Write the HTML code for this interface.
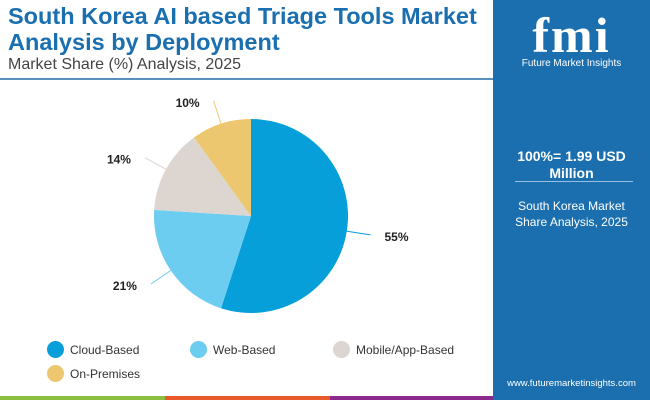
<!DOCTYPE html>
<html><head><meta charset="utf-8"><style>
body{margin:0;width:650px;height:400px;overflow:hidden;background:#fff;font-family:"Liberation Sans",sans-serif;position:relative}
.t{position:absolute;left:8px;top:3px;font-size:23.5px;font-weight:bold;color:#1a6fb0;line-height:26px}
.st{position:absolute;left:8px;top:56px;font-size:16px;color:#444}
.rule{position:absolute;left:0;top:78px;width:493px;height:2px;background:#5a90c0}
.panel{position:absolute;left:493px;top:0;width:157px;height:400px;background:#1b6fae;color:#fff;text-align:center}
.leg{position:absolute;font-size:12px;color:#333;display:flex;align-items:center}
.leg i{display:inline-block;width:17px;height:17px;border-radius:50%;margin-right:6px}
</style></head><body>
<div class="t">South Korea AI based Triage Tools Market<br>Analysis by Deployment</div>
<div class="st">Market Share (%) Analysis, 2025</div>
<div class="rule"></div>
<svg id="pie" width="493" height="330" style="position:absolute;left:0;top:0"></svg>
<div class="leg" style="left:47px;top:341px"><i style="background:#069fda"></i>Cloud-Based</div>
<div class="leg" style="left:190px;top:341px"><i style="background:#6dcdf0"></i>Web-Based</div>
<div class="leg" style="left:333px;top:341px"><i style="background:#ddd5d0"></i>Mobile/App-Based</div>
<div class="leg" style="left:47px;top:365px"><i style="background:#ecc76f"></i>On-Premises</div>
<div style="position:absolute;left:0;top:396px;width:165px;height:4px;background:#8cbf3f"></div>
<div style="position:absolute;left:165px;top:396px;width:165px;height:4px;background:#e8592b"></div>
<div style="position:absolute;left:330px;top:396px;width:163px;height:4px;background:#8b2a8c"></div>
<div class="panel">
<div style="position:absolute;left:0;width:157px;top:6px;font-size:50px;font-weight:bold;font-family:'Liberation Serif',serif;letter-spacing:2px">fmi</div>
<div style="position:absolute;left:0;width:157px;top:58px;font-size:10px">Future Market Insights</div>
<div style="position:absolute;left:0;width:157px;top:148px;font-size:14px;font-weight:bold;line-height:17px">100%= 1.99 USD<br>Million</div>
<div style="position:absolute;left:22px;width:118px;top:181px;height:1px;background:#9cc0e0"></div>
<div style="position:absolute;left:0;width:157px;top:198px;font-size:12px;line-height:16px">South Korea Market<br>Share Analysis, 2025</div>
<div style="position:absolute;left:0;width:157px;top:378px;font-size:9.5px">www.futuremarketinsights.com</div>
</div>
<script>
const categories=["Cloud-Based","Web-Based","Mobile/App-Based","On-Premises"];
const values=[55,21,14,10];
const labels=["55%","21%","14%","10%"];
const colors=["#069fda","#6dcdf0","#ddd5d0","#ecc76f"];
const svg=document.getElementById('pie');const NS="http://www.w3.org/2000/svg";
const cx=251,cy=216,r=97;const tot=values.reduce((a,b)=>a+b,0);
let a0=0;
function pt(a,rr){return [cx+rr*Math.sin(a),cy-rr*Math.cos(a)];}
values.forEach((v,i)=>{
 const a1=a0+v/tot*2*Math.PI;const p0=pt(a0,r),p1=pt(a1,r);
 const p=document.createElementNS(NS,'path');
 p.setAttribute('d',`M${cx},${cy}L${p0[0]},${p0[1]}A${r},${r} 0 ${a1-a0>Math.PI?1:0} 1 ${p1[0]},${p1[1]}Z`);
 p.setAttribute('fill',colors[i]);
 
 
 svg.appendChild(p);
 const m=(a0+a1)/2;const q0=pt(m,r-3),q1=pt(m,r+24);
 const side=Math.sin(m)>=0?1:-1;
 const l=document.createElementNS(NS,'line');
 l.setAttribute('x1',q0[0]);l.setAttribute('y1',q0[1]);l.setAttribute('x2',q1[0]);l.setAttribute('y2',q1[1]);
 l.setAttribute('stroke',colors[i]);l.setAttribute('stroke-width','1');
 
 
 svg.appendChild(l);
 const t=document.createElementNS(NS,'text');
 t.setAttribute('x',q1[0]+side*26);t.setAttribute('y',q1[1]+6);t.setAttribute('text-anchor','middle');
 t.setAttribute('font-size','12');t.setAttribute('font-weight','bold');t.setAttribute('fill','#222');
 t.setAttribute('font-family','Liberation Sans, sans-serif');
 t.textContent=labels[i];
 
 
 svg.appendChild(t);
 a0=a1;
});
</script>
</body></html>
